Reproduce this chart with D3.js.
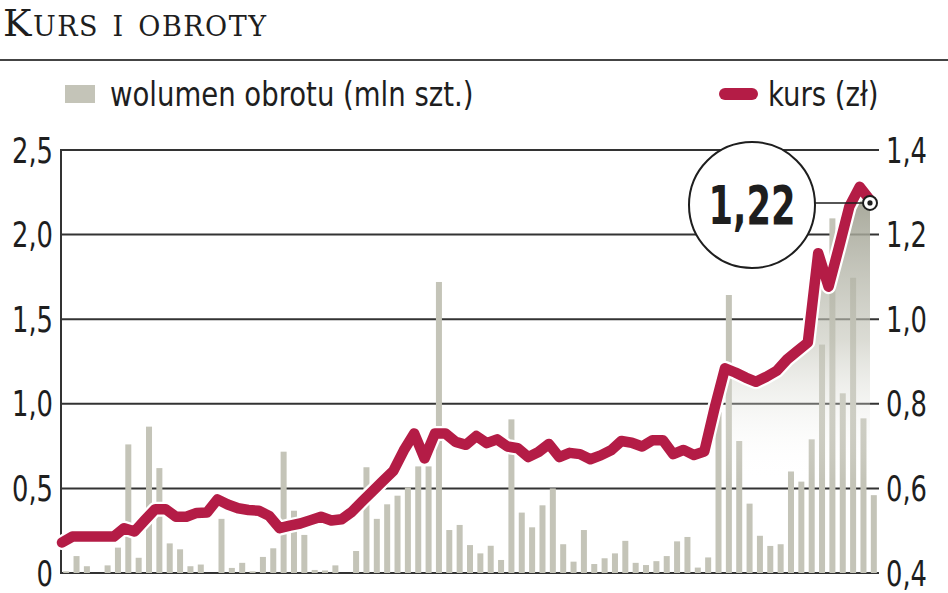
<!DOCTYPE html>
<html>
<head>
<meta charset="utf-8">
<script src="https://cdn.jsdelivr.net/npm/d3@7"></script>
<style>
  html, body { margin: 0; padding: 0; background: #fff; }
  svg { display: block; }
  .cond { font-family: "DejaVu Sans Condensed", "DejaVu Sans", sans-serif; font-stretch: condensed; }
</style>
</head>
<body>
<div id="chart"></div>
<script>
// volume of trading (mln shares), one bar per session
const volume = [
  0.01, 0.10, 0.04, 0, 0.045, 0.15, 0.76, 0.09, 0.865, 0.62,
  0.175, 0.14, 0.04, 0.05, 0, 0.32, 0.03, 0.06, 0.01, 0.095,
  0.146, 0.717, 0.368, 0.225, 0.018, 0.015, 0.045, 0, 0.13, 0.625,
  0.32, 0.406, 0.457, 0.506, 0.63, 0.63, 1.72, 0.254, 0.284, 0.165,
  0.116, 0.161, 0.077, 0.908, 0.357, 0.27, 0.40, 0.50, 0.17, 0.067,
  0.254, 0.053, 0.087, 0.116, 0.19, 0.06, 0.047, 0.07, 0.10, 0.187,
  0.213, 0.032, 0.092, 0.95, 1.643, 0.78, 0.41, 0.22, 0.16, 0.17,
  0.60, 0.54, 0.79, 1.35, 2.096, 1.062, 1.745, 0.914, 0.46
];
// share price (zl)
const price = [
  0.472, 0.486, 0.486, 0.486, 0.486, 0.486, 0.506, 0.498, 0.525, 0.551,
  0.551, 0.533, 0.533, 0.542, 0.543, 0.574, 0.562, 0.553, 0.549, 0.547,
  0.535, 0.506, 0.512, 0.517, 0.525, 0.533, 0.524, 0.527, 0.545, 0.57,
  0.594, 0.618, 0.642, 0.69, 0.73, 0.671, 0.73, 0.73, 0.71, 0.703,
  0.724, 0.707, 0.716, 0.699, 0.695, 0.674, 0.686, 0.705, 0.674, 0.684,
  0.681, 0.669, 0.678, 0.69, 0.712, 0.708, 0.699, 0.714, 0.714, 0.681,
  0.691, 0.679, 0.687, 0.79, 0.884, 0.874, 0.862, 0.852, 0.864, 0.878,
  0.905, 0.925, 0.945, 1.156, 1.077, 1.17, 1.266, 1.313, 1.282
];
const leftTicks = [0, 0.5, 1.0, 1.5, 2.0, 2.5];
const rightTicks = [0.4, 0.6, 0.8, 1.0, 1.2, 1.4];
const title = "Kurs i obroty";
const legendLabels = ["wolumen obrotu (mln szt.)", "kurs (zł)"];
const lastLabel = "1,22";
const highlightFrom = 64; // start of shaded rally

const width = 948, height = 593;
const plotL = 61, plotR = 879, plotT = 150, plotB = 573;
const barColor = "#c4c4b8", lineColor = "#b41c46", ink = "#1e1e1e";
const comma = d3.format(".1f");
const fmt = v => v === 0 ? "0" : comma(v).replace(".", ",");

const idx = d3.range(volume.length);
const xBar = d3.scaleBand().domain(idx).range([plotL, plotR]).paddingInner(0.42).paddingOuter(0.21);
const xLine = d3.scalePoint().domain(idx).range([62, 870]);
const yL = d3.scaleLinear().domain([0, 2.5]).range([plotB, plotT]);
const yR = d3.scaleLinear().domain([0.4, 1.4]).range([plotB, plotT]);

const svg = d3.select("#chart").append("svg")
  .attr("width", width)
  .attr("height", height);

svg.append("rect").attr("width", width).attr("height", height).attr("fill", "#fff");

// narrow text: the paper uses a condensed face, squeeze DejaVu a bit
function narrow(sel, x, y, sx) {
  return sel.append("g")
    .attr("transform", `translate(${x},${y}) scale(${sx},1)`)
    .append("text")
    .attr("class", "cond")
    .attr("fill", ink);
}

// title and rule
svg.append("text")
  .attr("x", 3)
  .attr("y", 36)
  .style("font-family", "'DejaVu Serif', serif")
  .style("font-variant", "small-caps")
  .style("font-size", "38px")
  .style("letter-spacing", "1.5px")
  .attr("fill", ink)
  .text(title);

svg.append("line")
  .attr("x1", 0).attr("x2", width)
  .attr("y1", 60).attr("y2", 60)
  .attr("stroke", "#444").attr("stroke-width", 2);

// legend
svg.append("rect")
  .attr("x", 65).attr("y", 85).attr("width", 30).attr("height", 18)
  .attr("fill", barColor);
narrow(svg, 110, 106, 0.9)
  .style("font-size", "34px")
  .text(legendLabels[0]);
svg.append("line")
  .attr("x1", 725).attr("x2", 752).attr("y1", 94).attr("y2", 94)
  .attr("stroke", lineColor).attr("stroke-width", 12).attr("stroke-linecap", "round");
narrow(svg, 768, 106, 0.9)
  .style("font-size", "34px")
  .text(legendLabels[1]);

// grid
svg.append("g").selectAll("line")
  .data(leftTicks)
  .join("line")
  .attr("x1", plotL).attr("x2", plotR)
  .attr("y1", d => yL(d)).attr("y2", d => yL(d))
  .attr("stroke", "#333").attr("stroke-width", 2);

svg.append("line")
  .attr("x1", plotL).attr("x2", plotL)
  .attr("y1", plotT - 1).attr("y2", plotB + 1)
  .attr("stroke", "#333").attr("stroke-width", 2);

// bars
svg.append("g").selectAll("rect")
  .data(volume)
  .join("rect")
  .attr("x", (d, i) => xBar(i))
  .attr("width", xBar.bandwidth())
  .attr("y", d => yL(d))
  .attr("height", d => plotB - yL(d))
  .attr("fill", barColor);

// shaded area under the last rally
const defs = svg.append("defs");
const grad = defs.append("linearGradient")
  .attr("id", "shade")
  .attr("gradientUnits", "userSpaceOnUse")
  .attr("x1", 0).attr("x2", 0)
  .attr("y1", 200).attr("y2", 480);
grad.append("stop").attr("offset", 0).attr("stop-color", "#9fa091").attr("stop-opacity", 0.9);
grad.append("stop").attr("offset", 0.5).attr("stop-color", "#c3c4b8").attr("stop-opacity", 0.6);
grad.append("stop").attr("offset", 1).attr("stop-color", "#ffffff").attr("stop-opacity", 0);

const area = d3.area()
  .x(i => xLine(i))
  .y0(plotB)
  .y1(i => yR(price[i]));
svg.append("path")
  .datum(idx.filter(i => i >= highlightFrom))
  .attr("d", area)
  .attr("fill", "url(#shade)");

// price line
const line = d3.line()
  .x((d, i) => xLine(i))
  .y(d => yR(d));
svg.append("path")
  .datum(price)
  .attr("d", line)
  .attr("fill", "none")
  .attr("stroke", "#fff")
  .attr("stroke-width", 15)
  .attr("stroke-linejoin", "round")
  .attr("stroke-linecap", "round");
svg.append("path")
  .datum(price)
  .attr("d", line)
  .attr("fill", "none")
  .attr("stroke", lineColor)
  .attr("stroke-width", 10.5)
  .attr("stroke-linejoin", "round")
  .attr("stroke-linecap", "round");

// axis labels
leftTicks.forEach(t => {
  narrow(svg, 53, yL(t), 0.82)
    .attr("dy", "0.36em")
    .attr("text-anchor", "end")
    .style("font-size", "35px")
    .text(fmt(t));
});
rightTicks.forEach(t => {
  narrow(svg, 886, yR(t), 0.82)
    .attr("dy", "0.36em")
    .style("font-size", "35px")
    .text(fmt(t));
});

// last value callout
const last = price.length - 1;
const px = xLine(last), py = yR(price[last]);
const cx = 752, cy = 205, r = 63;
svg.append("line")
  .attr("x1", cx + r).attr("x2", px)
  .attr("y1", py + 3).attr("y2", py + 3)
  .attr("stroke", ink).attr("stroke-width", 1.5);
svg.append("circle")
  .attr("cx", cx).attr("cy", cy).attr("r", r)
  .attr("fill", "#fff").attr("stroke", ink).attr("stroke-width", 2);
narrow(svg, cx, cy, 0.74)
  .attr("dy", "0.36em")
  .attr("text-anchor", "middle")
  .style("font-size", "53px")
  .style("font-weight", "bold")
  .text(lastLabel);
svg.append("circle")
  .attr("cx", px).attr("cy", py + 3).attr("r", 7)
  .attr("fill", "#fff").attr("stroke", ink).attr("stroke-width", 2);
svg.append("circle")
  .attr("cx", px).attr("cy", py + 3).attr("r", 2.6)
  .attr("fill", ink);
</script>
</body>
</html>
